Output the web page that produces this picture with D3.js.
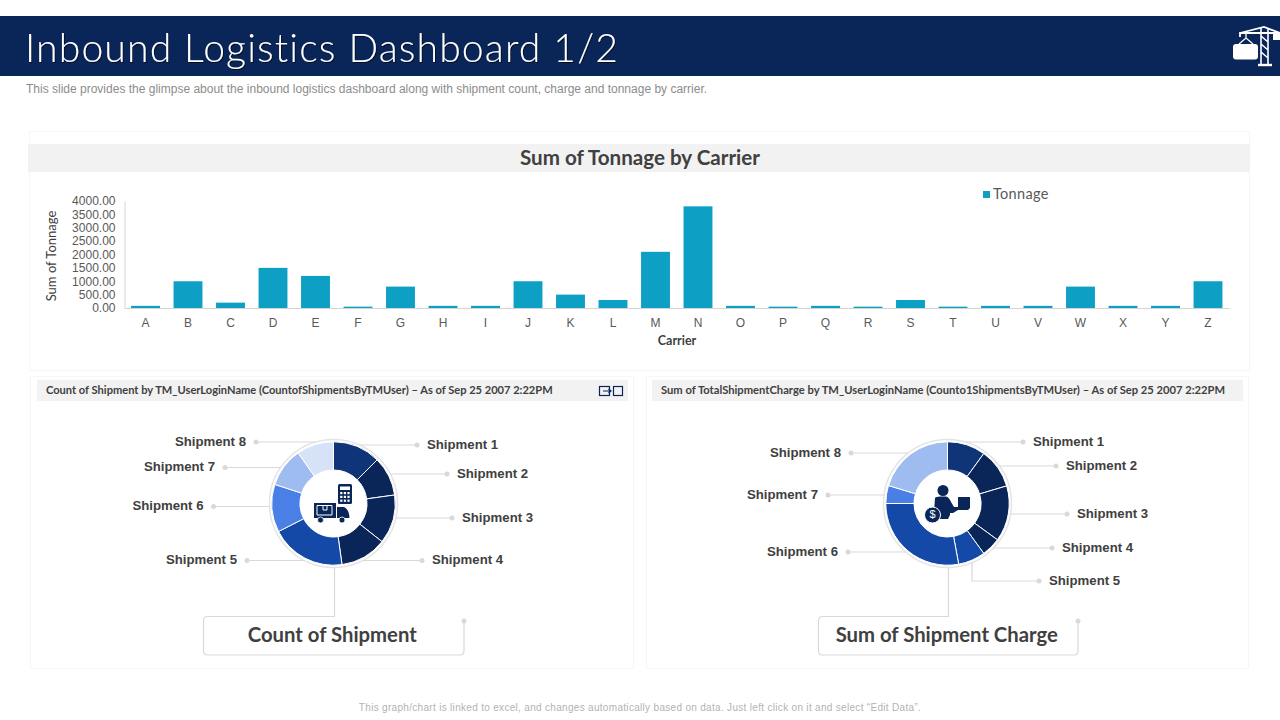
<!DOCTYPE html>
<html>
<head>
<meta charset="utf-8">
<script src="https://cdn.jsdelivr.net/npm/d3@7"></script>
<style>
html, body { margin: 0; padding: 0; background: #fff; }
svg { display: block; }
.axis path, .axis line { stroke: #d4d4d4; }
.axis text { font-family: "Liberation Sans", sans-serif; font-size: 12px; fill: #595959; }
</style>
</head>
<body>
<svg id="chart" width="1280" height="720"></svg>
<script>
// chart values
var carriers = ["A","B","C","D","E","F","G","H","I","J","K","L","M","N","O","P","Q","R","S","T","U","V","W","X","Y","Z"];
var tonnage = [80,1000,200,1500,1200,50,800,80,80,1000,500,300,2100,3800,80,50,80,50,300,50,80,80,800,80,80,1000];
var tonnageTicks = [0,500,1000,1500,2000,2500,3000,3500,4000];
var shipments = ["Shipment 1","Shipment 2","Shipment 3","Shipment 4","Shipment 5","Shipment 6","Shipment 7","Shipment 8"];
var shipmentCount = [12.5,10.3,12.8,12.2,19.7,12.5,10.3,9.7];
var shipmentCharge = [10,10.4,14.6,5,7.1,27.9,4.7,20.3];

var navy = "#0a2558";
var countColors = ["#0f3478","#0a2558","#0a2558","#0a2558","#1549a8","#4a80e6","#9fbcf0","#d6e2f8"];
var chargeColors = ["#0f3478","#0a2558","#0a2558","#0a2558","#1549a8","#1549a8","#4a80e6","#9fbcf0"];

// label placement for the two donuts: [dot x, line y, side]
var countCallouts = [[417,445,1],[447,474,1],[452,518,1],[422,560.5,1],[247,560.5,-1],[213.5,506.5,-1],[225,467.5,-1],[256,442,-1]];
var chargeCallouts = [[1023,442,1],[1056,466,1],[1067,514,1],[1052,548,1],[1039,581,1],[848,552,-1],[828,495,-1],[851,453,-1]];

var svg = d3.select("#chart");
var labelFont = "Lato, sans-serif";
var bodyFont = "'Liberation Sans', sans-serif";

function box(x, y, w, h, fill, stroke){
    svg.append("rect").attr("x", x).attr("y", y).attr("width", w).attr("height", h)
        .attr("fill", fill).attr("stroke", stroke || "none");
}

function label(x, y, txt, size, color, family, weight, anchor){
    return svg.append("text").attr("x", x).attr("y", y + 1).text(txt)
        .attr("font-size", size).attr("fill", color).attr("font-family", family)
        .attr("font-weight", weight || "normal").attr("text-anchor", anchor || "start")
        .attr("dominant-baseline", "middle");
}

/* ---- header ---- */
box(0, 16, 1280, 60, navy);
var defs = svg.append("defs");
var shadow = defs.append("filter").attr("id", "titleShadow");
shadow.append("feDropShadow").attr("dx", 1).attr("dy", 1).attr("stdDeviation", 0.6)
    .attr("flood-color", "#000").attr("flood-opacity", 0.6);
svg.append("text").attr("x", 25).attr("y", 62).text("Inbound Logistics Dashboard 1/2")
    .attr("font-family", labelFont).attr("font-weight", 300).attr("font-size", 39)
    .attr("letter-spacing", 1.2).attr("fill", "#fff").attr("filter", "url(#titleShadow)");
label(26, 89, "This slide provides the glimpse about the inbound logistics dashboard along with shipment count, charge and tonnage by carrier.", 12, "#8c8c8c", bodyFont);

// crane icon
svg.append("rect").attr("x", 1233).attr("y", 44).attr("width", 25).attr("height", 15.5).attr("rx", 3).attr("fill", "#fff");
var crane = svg.append("g").attr("fill", "none").attr("stroke", "#fff");
crane.append("path").attr("stroke-width", 1.3).attr("d", "M1239 44L1246 38L1253 44M1246 38V33");
crane.append("path").attr("stroke-width", 1.8).attr("d", "M1240 37V33H1280M1240 33L1264 27L1280 33");
crane.append("path").attr("stroke-width", 1.6).attr("d", "M1261 28V64M1268 28V64M1261 36L1268 42M1261 44L1268 50M1261 52L1268 58");
crane.append("path").attr("stroke-width", 2.4).attr("d", "M1258 65H1272");
svg.append("rect").attr("x", 1273).attr("y", 34).attr("width", 7).attr("height", 6).attr("fill", "#fff");

/* ---- panels ---- */
box(29.5, 131.5, 1220, 239, "#fff", "#f6f6f6");
box(30.5, 376.500, 603, 292, "#fff", "#f6f6f6");
box(646.5, 376.500, 602, 292, "#fff", "#f6f6f6");
box(28, 144, 1222, 28, "#f2f2f2");
box(37, 380, 591, 21, "#f2f2f2");
box(652, 380, 591, 21, "#f2f2f2");
label(640, 158.500, "Sum of Tonnage by Carrier", 20.6, "#404040", labelFont, 700, "middle");
label(46, 390.500, "Count of Shipment by TM_UserLoginName (CountofShipmentsByTMUser) \u2013 As of Sep 25 2007 2:22PM", 11.1, "#404040", labelFont, 700);
label(661, 390.500, "Sum of TotalShipmentCharge by TM_UserLoginName (Counto1ShipmentsByTMUser) \u2013 As of Sep 25 2007 2:22PM", 11.2, "#404040", labelFont, 700);

// small toolbar icon on the left panel
var tools = svg.append("g").attr("fill", "none").attr("stroke", navy).attr("stroke-width", 1.2);
tools.append("rect").attr("x", 599.5).attr("y", 386.500).attr("width", 10).attr("height", 9);
tools.append("rect").attr("x", 613.5).attr("y", 386.500).attr("width", 9).attr("height", 9);
tools.append("path").attr("d", "M603 391H611M608.500 389L611 391L608.500 393");

/* ---- bar chart ---- */
var x = d3.scaleBand().domain(carriers).range([124.25, 1229.25]).paddingInner(0.32).paddingOuter(0.16);
var y = d3.scaleLinear().domain([0, 4000]).range([308, 201]);

var barColor = "#0e9fc4";
svg.append("g").selectAll("rect").data(tonnage).enter().append("rect")
    .attr("x", function(d, i){ return x(carriers[i]); })
    .attr("y", function(d){ return y(d); })
    .attr("width", x.bandwidth())
    .attr("height", function(d){ return y(0) - y(d); })
    .attr("fill", barColor);

svg.append("g").attr("class", "axis").attr("transform", "translate(0,308)")
    .call(d3.axisBottom(x).tickSize(0).tickPadding(10));
svg.append("g").attr("class", "axis").attr("transform", "translate(124.5,0)")
    .call(d3.axisLeft(y).tickValues(tonnageTicks).tickFormat(d3.format(".2f")).tickSize(0).tickPadding(9));

var yTitle = label(0, 0, "Sum of Tonnage", 13, "#404040", labelFont, 400, "middle");
yTitle.attr("transform", "translate(52,256) rotate(-90)");
label(677, 341, "Carrier", 12.500, "#404040", labelFont, 700, "middle");

box(983, 191, 7, 7, barColor);
label(993, 194.500, "Tonnage", 14.5, "#595959", labelFont).attr("letter-spacing", 0.3);

/* ---- donuts ---- */
function drawDonut(cx, cy, values, colors, callouts){
    var pie = d3.pie().sort(null);
    var arc = d3.arc().innerRadius(33.5).outerRadius(61.7);
    var ringR = 64;
    var lineColor = "#d9d9d9";

    svg.append("circle").attr("cx", cx).attr("cy", cy).attr("r", ringR)
        .attr("fill", "#fff").attr("stroke", "#e4e4e4").attr("stroke-width", 1.5);

    // leader lines go under the ring
    callouts.forEach(function(c, i){
        var dy = c[1] - cy;
        var dx = Math.abs(dy) < ringR ? Math.sqrt(ringR * ringR - dy * dy) : 0;
        var startX = cx + c[2] * dx;
        if (Math.abs(dy) < ringR) {
            svg.append("line").attr("x1", startX).attr("x2", c[0]).attr("y1", c[1]).attr("y2", c[1])
                .attr("stroke", lineColor).attr("stroke-width", 1.2);
        } else {
            // callout below the ring needs an elbow
            var elbowX = cx + 24.5;
            var ringY = cy + Math.sqrt(ringR * ringR - 24.5 * 24.5);
            svg.append("path").attr("fill", "none").attr("stroke", lineColor).attr("stroke-width", 1.2)
                .attr("d", "M" + elbowX + " " + ringY + "V" + c[1] + "H" + c[0]);
        }
        svg.append("circle").attr("cx", c[0]).attr("cy", c[1]).attr("r", 2.5).attr("fill", lineColor);
        label(c[0] + c[2] * 10, c[1] - 0.5, shipments[i], 13.2, "#404040", bodyFont, 700, c[2] > 0 ? "start" : "end");
    });

    svg.append("g").attr("transform", "translate(" + cx + "," + cy + ")")
        .selectAll("path").data(pie(values)).enter().append("path")
        .attr("d", arc)
        .attr("fill", function(d, i){ return colors[i]; })
        .attr("stroke", "#fff").attr("stroke-width", 1);
}

function titleBox(left, right, stemX, txt){
    var r = 4;
    svg.append("path").attr("fill", "none").attr("stroke", "#d9d9d9").attr("stroke-width", 1.2)
        .attr("d", "M" + stemX + " 568V616.500H" + (left + r) + "Q" + left + " 616.500 " + left + " " + (616.5 + r)
            + "V" + (655 - r) + "Q" + left + " 655 " + (left + r) + " 655H" + (right - r)
            + "Q" + right + " 655 " + right + " " + (655 - r) + "V621");
    svg.append("circle").attr("cx", right).attr("cy", 621).attr("r", 2.5).attr("fill", "#d9d9d9");
    label((left + right) / 2 - 1.5, 636, txt, 20.3, "#404040", labelFont, 700, "middle");
}

drawDonut(333.5, 503.5, shipmentCount, countColors, countCallouts);
drawDonut(947.5, 503.5, shipmentCharge, chargeColors, chargeCallouts);
titleBox(203.5, 464, 334.5, "Count of Shipment");
titleBox(818.5, 1078, 948.5, "Sum of Shipment Charge");

// truck and calculator icon
var truck = svg.append("g").attr("fill", navy);
truck.append("rect").attr("x", 314).attr("y", 503).attr("width", 22).attr("height", 15);
truck.append("path").attr("d", "M337 507H344Q349 509 349.500 518H337Z");
truck.append("path").attr("fill", "none").attr("stroke", "#fff").attr("stroke-width", 1).attr("d", "M317 505.500H332V515H317ZM323 505.500V510H327V505.500");
truck.append("circle").attr("cx", 320.5).attr("cy", 520).attr("r", 3).attr("stroke", "#fff").attr("stroke-width", 0.8);
truck.append("circle").attr("cx", 342).attr("cy", 520).attr("r", 3).attr("stroke", "#fff").attr("stroke-width", 0.8);
truck.append("rect").attr("x", 338).attr("y", 484).attr("width", 14).attr("height", 20).attr("rx", 1.5);
truck.append("rect").attr("x", 340).attr("y", 486.500).attr("width", 10).attr("height", 3.5).attr("fill", "#fff");
d3.range(3).forEach(function(row){
    d3.range(3).forEach(function(col){
        truck.append("rect").attr("x", 340.2 + col * 3.6).attr("y", 492 + row * 3.8)
            .attr("width", 2.2).attr("height", 2.2).attr("fill", "#fff");
    });
});

// person with box and coin icon
var person = svg.append("g").attr("fill", navy);
person.append("circle").attr("cx", 943).attr("cy", 490.500).attr("r", 5.5);
person.append("path").attr("d", "M935 498Q936 496.500 940 496.500H946Q949 497 951 502L954 507H958V497H970V508L968 510H958L953 513H950V515L948 519H938V512L934 512Z");
person.append("circle").attr("cx", 932.5).attr("cy", 515).attr("r", 8).attr("stroke", "#fff").attr("stroke-width", 1);
label(932.5, 514.5, "$", 11, "#fff", bodyFont, "normal", "middle");

/* ---- footer ---- */
label(640, 707, "This graph/chart is linked to excel, and changes automatically based on data. Just left click on it and select \u201cEdit Data\u201d.", 10, "#b3b3b3", bodyFont, "normal", "middle").attr("letter-spacing", 0.31);
</script>
</body>
</html>
